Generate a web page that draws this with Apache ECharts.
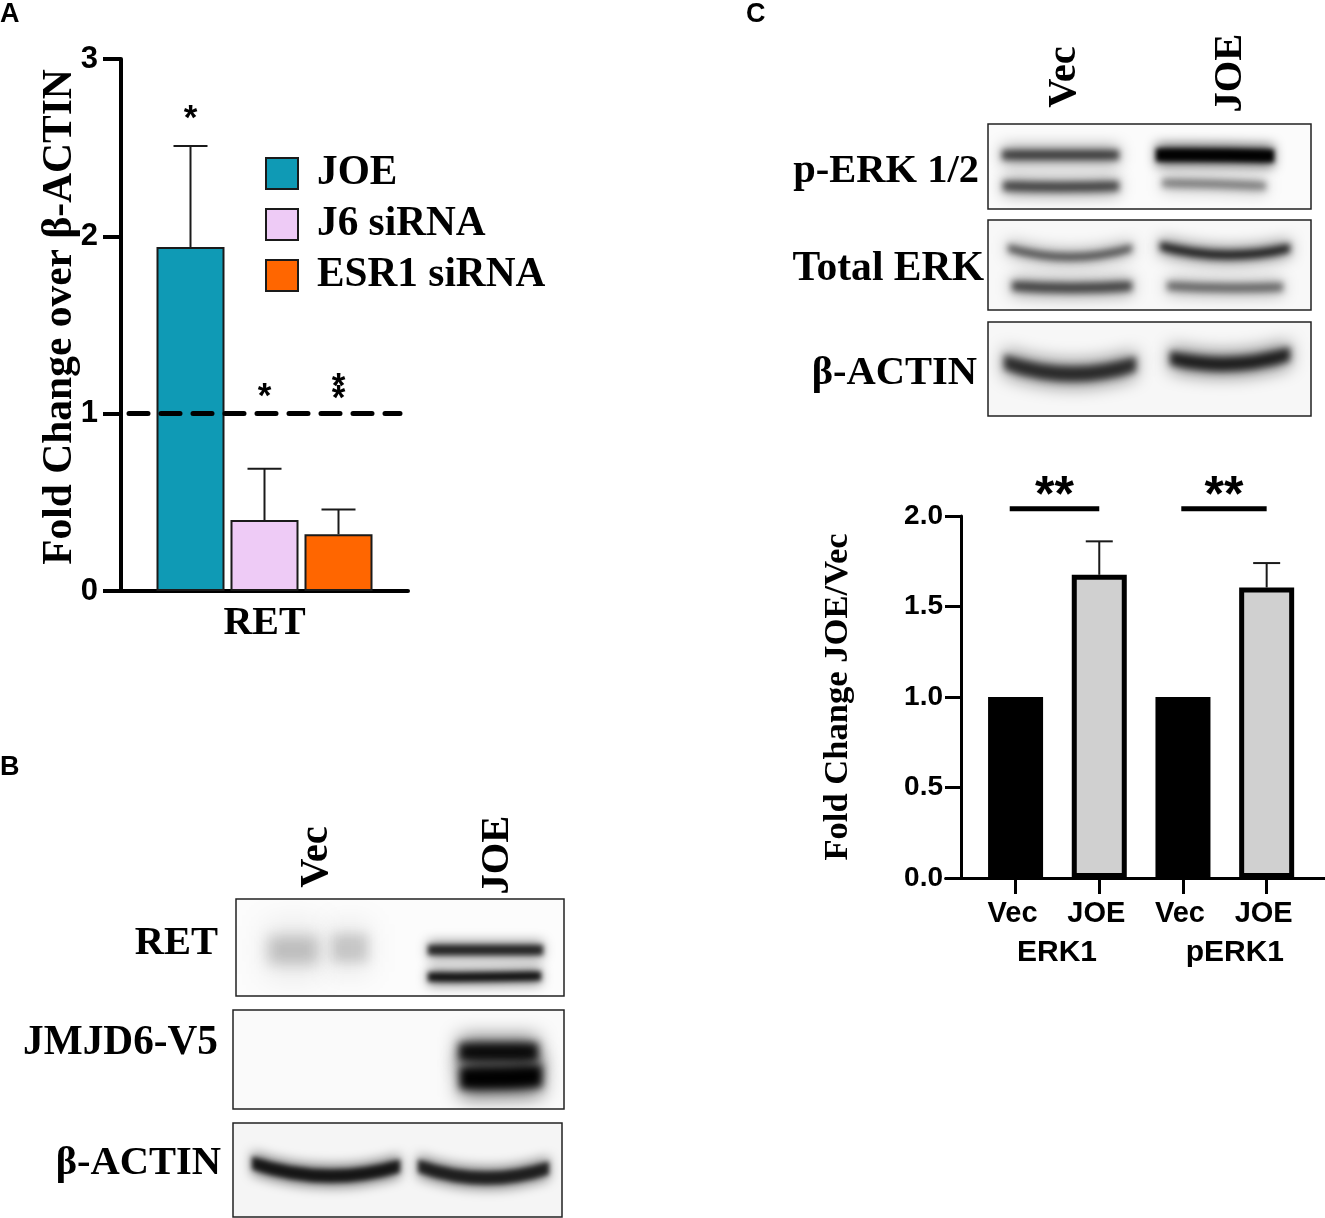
<!DOCTYPE html>
<html><head><meta charset="utf-8">
<style>html,body{margin:0;padding:0;background:#fff}#c{width:1325px;height:1218px}</style>
<script src="https://cdn.jsdelivr.net/npm/echarts@6/dist/echarts.min.js"></script>
</head><body><div id="c"></div>
<script>
// Panel A data
const retSeriesNames = ['JOE', 'J6 siRNA', 'ESR1 siRNA'];
const retColors = ['#0F9AB5', '#EECBF6', '#FF6600'];
const retValues = [1.94, 0.4, 0.32];
const retErrorTops = [2.51, 0.69, 0.46];
const retStars = [[0, 2.71], [1, 1.14], [2, 1.20], [2, 1.13]];
const retReference = 1;
// Panel C data
const erkPositions = [0, 1, 2, 3];
const erkLabels = ['Vec', 'JOE', 'Vec', 'JOE'];
const erkValues = [1, 1.675, 1, 1.605];
const erkErrorTops = [null, 1.86, null, 1.74];
const erkColors = ['#000000', '#D0D0D0', '#000000', '#D0D0D0'];
const erkBrackets = [[-0.07, 1, 2.04], [1.98, 3, 2.04]];
const erkGroups = [['ERK1', 0.495], ['pERK1', 2.62]];

const SERIF = '"Liberation Serif","Times New Roman",serif';
const SANS = '"Liberation Sans",Arial,sans-serif';
const barW = 68, barStep = 74;

function errorBar(api, x, yBase, yTop, cap, lw) {
  return [
    {type:'line', shape:{x1:x,y1:yBase,x2:x,y2:yTop}, style:{stroke:'#1a1a1a',lineWidth:lw}},
    {type:'line', shape:{x1:x-cap/2,y1:yTop,x2:x+cap/2,y2:yTop}, style:{stroke:'#1a1a1a',lineWidth:lw}}
  ];
}

// Blots: painted on canvases, purely illustrative gel images
function blot(x, y, w, h, bg, bands) {
  const cv = document.createElement('canvas');
  cv.width = w; cv.height = h;
  const c = cv.getContext('2d');
  c.fillStyle = bg; c.fillRect(0,0,w,h);
  c.translate(-x,-y);
  const path = (b, grow) => {
    const [x0,x1,yL,yM,yR,bh] = b; const hh = bh*grow/2, mx=(x0+x1)/2, cy=2*yM-(yL+yR)/2;
    c.beginPath(); c.moveTo(x0,yL-hh); c.quadraticCurveTo(mx,cy-hh,x1,yR-hh);
    c.lineTo(x1,yR+hh); c.quadraticCurveTo(mx,cy+hh,x0,yL+hh); c.closePath();
  };
  bands.forEach(b => {
    const a = b[6], blur = b[7] || 3;
    c.filter = `blur(${blur*2.4}px)`; c.fillStyle = `rgba(0,0,0,${a*0.55})`; path(b,1.7); c.fill();
    c.filter = `blur(${blur}px)`; c.fillStyle = `rgba(0,0,0,${a*0.9})`; path(b,1); c.fill();
  });
  c.filter = 'none';
  return [
    {type:'image', x, y, z:1, style:{image:cv, x:0, y:0, width:w, height:h}},
    {type:'rect', z:2, shape:{x,y,width:w,height:h}, style:{fill:'none',stroke:'#222',lineWidth:1.5}}
  ];
}
const blots = [
  blot(988,124,323,85,'#fbfbfb',[[1002,1119,155,155,155,10,.72],[1003,1119,186,187,186,10,.68],[1156,1274,155,155,156,13,1.1,2.5],[1162,1266,183,184,186,9,.42]]),
  blot(988,220,323,90,'#f8f8f8',[[1008,1132,248,257,248,8,.62],[1012,1132,286,288,286,10,.68],[1160,1290,246,255,248,9,.88],[1167,1283,286,288,287,9,.52]]),
  blot(988,322,323,94,'#f7f7f7',[[1004,1136,362,374,364,15,.8,3.5],[1170,1290,358,364,354,14,.88,3.5]]),
  blot(236,899,328,97,'#fcfcfc',[[268,318,950,950,950,28,.2,7],[332,368,948,948,948,28,.17,6],[428,543,950,950,950,10,.82,2.5],[428,541,977,977,976,9,.95,2.5]]),
  blot(233,1010,331,99,'#fafafa',[[459,538,1052,1052,1052,18,1,4],[460,542,1078,1078,1076,22,1.1,4]]),
  blot(233,1123,329,94,'#f5f5f5',[[252,400,1163,1176,1166,13,.92,2.5],[418,549,1166,1178,1168,13,.86,2.5]])
];
const serifText = (text, x, y, align, rot, size) => ({
  type:'text', x, y, rotation: rot ? Math.PI/2 : 0, z:5,
  style:{text, fill:'#000', font:`bold ${size||40.5}px ${SERIF}`, align, verticalAlign:'middle'}
});
const sansLetter = (text, x, y) => ({type:'text', x, y, z:5, style:{text, fill:'#000', font:`bold 27px ${SANS}`, align:'left', verticalAlign:'middle'}});
const labels = [
  sansLetter('A',0,15), sansLetter('B',0,768), sansLetter('C',746,15),
  serifText('Vec',1065,77,'center',true), serifText('JOE',1231,73,'center',true),
  serifText('p-ERK 1/2',979,172,'right'), serifText('Total ERK',984,269,'right',false,41.6), serifText('β-ACTIN',977,374,'right'),
  serifText('Vec',317,857,'center',true), serifText('JOE',498,855,'center',true),
  serifText('RET',218,944,'right'), serifText('JMJD6-V5',218,1043,'right',false,41.3), serifText('β-ACTIN',221,1164,'right')
];

const chart = echarts.init(document.getElementById('c'), null, {renderer:'canvas'});
const axisCommon = {fontFamily:SANS, fontWeight:'bold', color:'#000'};
chart.setOption({
  animation:false, backgroundColor:'#fff',
  grid:[
    {left:121, top:59, width:287, height:532, outerBoundsMode:'none'},
    {left:945.6, top:516, width:379.4, height:362, outerBoundsMode:'none'}
  ],
  legend:{
    data:retSeriesNames, orient:'vertical', left:260, top:148, icon:'rect', itemWidth:32, itemHeight:31, itemGap:10,
    textStyle:{fontFamily:SERIF, fontWeight:'bold', fontSize:41.3, color:'#000', lineHeight:33, padding:[0,0,0,14]}
  },
  xAxis:[
    {gridIndex:0, type:'category', data:['RET'], axisLine:{lineStyle:{color:'#000',width:4}}, axisTick:{show:false},
     axisLabel:{fontFamily:SERIF, fontWeight:'bold', fontSize:40, color:'#000', margin:13}},
    {gridIndex:1, type:'value', min:-0.836, max:3.697, splitLine:{show:false},
     axisLine:{lineStyle:{color:'#000',width:3}},
     axisTick:{length:16, lineStyle:{color:'#000',width:3}, customValues:erkPositions},
     axisLabel:{...axisCommon, fontSize:29, margin:21, padding:[0,6,0,0], customValues:erkPositions, formatter:v=>erkLabels[Math.round(v)]}}
  ],
  yAxis:[
    {gridIndex:0, type:'value', min:0, max:3, interval:1, splitLine:{show:false},
     axisLine:{show:true,lineStyle:{color:'#000',width:4}}, axisTick:{show:true,length:18,lineStyle:{color:'#000',width:4}},
     axisLabel:{...axisCommon, fontSize:31, margin:23, padding:[4,0,0,0]},
     name:'Fold Change over β-ACTIN', nameLocation:'middle', nameGap:40, nameRotate:90, nameMoveOverlap:false,
     nameTextStyle:{fontFamily:SERIF, fontWeight:'bold', fontSize:41.5, color:'#000', padding:[0,0,0,16]}},
    {gridIndex:1, type:'value', min:0, max:2, interval:0.5, offset:-15.4, splitLine:{show:false},
     axisLine:{show:true,onZero:false,lineStyle:{color:'#000',width:3}}, axisTick:{show:true,length:16,lineStyle:{color:'#000',width:3}},
     axisLabel:{...axisCommon, fontSize:28, margin:18, padding:[4,0,0,0], formatter:v=>v.toFixed(1)},
     name:'Fold Change JOE/Vec', nameLocation:'middle', nameGap:105, nameRotate:90, nameMoveOverlap:false,
     nameTextStyle:{fontFamily:SERIF, fontWeight:'bold', fontSize:34.6, color:'#000'}}
  ],
  graphic:{elements:[...blots.flat(), ...labels]},
  series:[
    ...retSeriesNames.map((name,i)=>({
      name, type:'bar', xAxisIndex:0, yAxisIndex:0, barWidth:barW, barGap:(barStep-barW)/barW,
      data:[retValues[i]],
      itemStyle:{color:retColors[i], borderColor:'#1a1a1a', borderWidth:2},
      ...(i===0?{markLine:{silent:true,symbol:'none',z:6,label:{show:false},
        lineStyle:{color:'#000',width:5,type:[19,13],cap:'round'},
        data:[[{x:129,yAxis:retReference},{x:400,yAxis:retReference}]]}}:{})
    })),
    {type:'custom', xAxisIndex:0, yAxisIndex:0, z:4, clip:false,
     data:retValues.map((v,i)=>[i,v,retErrorTops[i]]),
     encode:{x:-1,y:[1,2]},
     renderItem(p,api){
       const i=api.value(0), x=api.coord([0,0])[0]+(i-1)*barStep;
       const yB=api.coord([0,api.value(1)])[1], yT=api.coord([0,api.value(2)])[1];
       return {type:'group',children:errorBar(api,x,yB,yT,34,2)};
     }},
    {type:'custom', xAxisIndex:0, yAxisIndex:0, z:5, clip:false,
     data:retStars, encode:{x:-1,y:1},
     renderItem(p,api){
       const i=api.value(0), x=api.coord([0,0])[0]+(i-1)*barStep, y=api.coord([0,api.value(1)])[1];
       return {type:'text',style:{x,y:y+9,text:'*',fill:'#000',font:`bold 35px ${SANS}`,align:'center',verticalAlign:'middle'}};
     }},
    {type:'bar', xAxisIndex:1, yAxisIndex:1, barWidth:55,
     data:erkValues.map((v,i)=>({value:[erkPositions[i],v],itemStyle:{color:erkColors[i],borderColor:'#000',borderWidth:5}}))},
    {type:'custom', xAxisIndex:1, yAxisIndex:1, z:4, clip:false,
     data:erkValues.map((v,i)=>[erkPositions[i],v,erkErrorTops[i]]).filter(d=>d[2]!=null),
     encode:{x:0,y:[1,2]},
     renderItem(p,api){
       const a=api.coord([api.value(0),api.value(1)]), b=api.coord([api.value(0),api.value(2)]);
       return {type:'group',children:errorBar(api,a[0],a[1],b[1],27,2)};
     }},
    {type:'custom', xAxisIndex:1, yAxisIndex:1, z:5, clip:false,
     data:erkBrackets, encode:{x:[0,1],y:2},
     renderItem(p,api){
       const a=api.coord([api.value(0),api.value(2)]), b=api.coord([api.value(1),api.value(2)]);
       return {type:'group',children:[
         {type:'line',shape:{x1:a[0],y1:a[1],x2:b[0],y2:b[1]},style:{stroke:'#000',lineWidth:5}},
         {type:'text',style:{x:(a[0]+b[0])/2,y:a[1]-12,text:'**',fill:'#000',font:`bold 50px ${SANS}`,align:'center',verticalAlign:'middle'}}
       ]};
     }},
    {type:'custom', xAxisIndex:1, yAxisIndex:1, z:5, clip:false,
     data:erkGroups.map(g=>[g[1],0]), encode:{x:0,y:1},
     renderItem(p,api){
       const c=api.coord([api.value(0),0]);
       return {type:'text',style:{x:c[0],y:c[1]+75,text:erkGroups[p.dataIndex][0],fill:'#000',font:`bold 30px ${SANS}`,align:'center',verticalAlign:'middle'}};
     }}
  ]
});
</script></body></html>
